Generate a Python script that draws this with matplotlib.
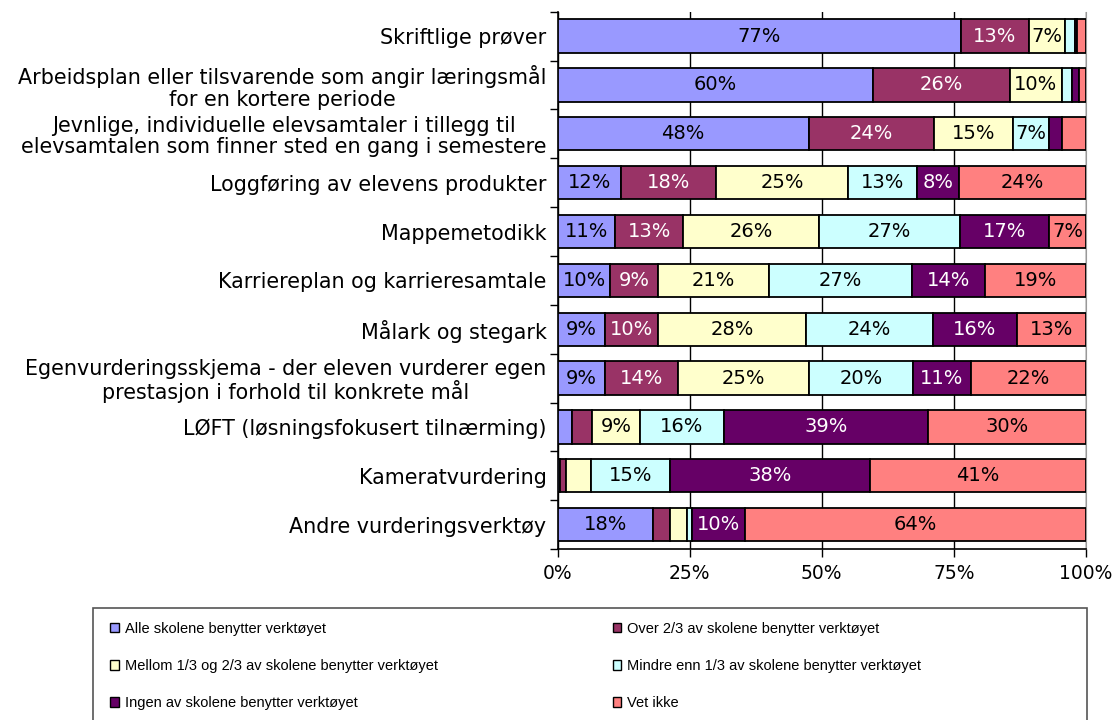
import numpy as np
import matplotlib
matplotlib.use("Agg")
import matplotlib.pyplot as plt
from matplotlib.patches import Patch, Rectangle

# kategorier (ovenfra og ned)
categories = [
    "Skriftlige prøver",
    "Arbeidsplan eller tilsvarende som angir læringsmål\nfor en kortere periode",
    "Jevnlige, individuelle elevsamtaler i tillegg til\nelevsamtalen som finner sted en gang i semestere",
    "Loggføring av elevens produkter",
    "Mappemetodikk",
    "Karriereplan og karrieresamtale",
    "Målark og stegark",
    "Egenvurderingsskjema - der eleven vurderer egen\nprestasjon i forhold til konkrete mål",
    "LØFT (løsningsfokusert tilnærming)",
    "Kameratvurdering",
    "Andre vurderingsverktøy",
]

series_names = [
    "Alle skolene benytter verktøyet",
    "Over 2/3 av skolene benytter verktøyet",
    "Mellom 1/3 og 2/3 av skolene benytter verktøyet",
    "Mindre enn 1/3 av skolene benytter verktøyet",
    "Ingen av skolene benytter verktøyet",
    "Vet ikke",
]

alle = [77, 60, 48, 12, 11, 10, 9, 9, 2.7, 0.4, 18]
over = [13, 26, 24, 18, 13, 9, 10, 14, 3.9, 1.2, 3.1]
mellom = [7, 10, 15, 25, 26, 21, 28, 25, 9, 4.7, 3.3]
mindre = [1.9, 1.9, 7, 13, 27, 27, 24, 20, 16, 15, 0.9]
ingen = [0.4, 1.3, 2.5, 8, 17, 14, 16, 11, 39, 38, 10]
vet_ikke = [1.6, 1.3, 4.5, 24, 7, 19, 13, 22, 30, 41, 64]

colors = ["#9999FF", "#993366", "#FFFFCC", "#CCFFFF", "#660066", "#FF8080"]
text_colors = ["black", "white", "black", "black", "white", "black"]

raw_series = [alle, over, mellom, mindre, ingen, vet_ikke]
data = np.array(raw_series, dtype=float)
# 100 % stablet: skaler hver rad til 100
data = data / data.sum(axis=0) * 100

fig = plt.figure(figsize=(11.14, 7.2), dpi=100)
ax = fig.add_axes([0.5006, 0.2374, 0.4741, 0.7464])

y = np.arange(len(categories))
left = np.zeros(len(categories))
for i, vals in enumerate(data):
    ax.barh(y, vals, left=left, height=0.68, color=colors[i],
            edgecolor="black", linewidth=1.3, zorder=3)
    raw = raw_series[i]
    for j, v in enumerate(vals):
        if raw[j] >= 6.5:
            ax.text(left[j] + v / 2, y[j], f"{raw[j]:.0f}%", ha="center", va="center",
                    fontsize=14, color=text_colors[i], zorder=4)
    left += vals

ax.set_xlim(0, 100)
ax.set_ylim(len(categories) - 0.5, -0.5)
ax.set_xticks([0, 25, 50, 75, 100])
ax.set_xticklabels(["0%", "25%", "50%", "75%", "100%"], fontsize=13.5)
ax.xaxis.grid(True, color="black", linewidth=1.0, zorder=0)
ax.tick_params(axis="x", length=6, width=1, pad=5)

# kategoritekster og tikkmerker mellom kategoriene
ax.set_yticks(y)
ax.set_yticklabels(categories, fontsize=14.9, multialignment="center", linespacing=1.1)
ax.set_yticks(np.arange(len(categories) + 1) - 0.5, minor=True)
ax.tick_params(axis="y", which="major", length=0, pad=8)
ax.tick_params(axis="y", which="minor", length=6, width=1)

ax.spines["top"].set_visible(False)
ax.spines["right"].set_color("#999999")
ax.spines["left"].set_linewidth(1.2)
ax.spines["bottom"].set_linewidth(1.2)

# forklaring
fig.patches.append(Rectangle((93 / 1114, -0.02), (1087 - 93) / 1114, (720 - 608) / 720 + 0.02,
                             transform=fig.transFigure, facecolor="white",
                             edgecolor="#555555", linewidth=1.2))
order = [0, 2, 4, 1, 3, 5]
handles = [Patch(facecolor=colors[k], edgecolor="black", linewidth=1) for k in order]
labels = [series_names[k] for k in order]
fig.legend(handles, labels, loc="upper left", bbox_to_anchor=(110 / 1114, 1 - 622 / 720),
           ncol=2, frameon=False, borderpad=0, borderaxespad=0,
           prop={"family": "Liberation Sans", "size": 10.5},
           handlelength=0.6, handleheight=0.6, handletextpad=0.4, columnspacing=12.0,
           labelspacing=1.58)

plt.savefig("out.png", dpi=100)
